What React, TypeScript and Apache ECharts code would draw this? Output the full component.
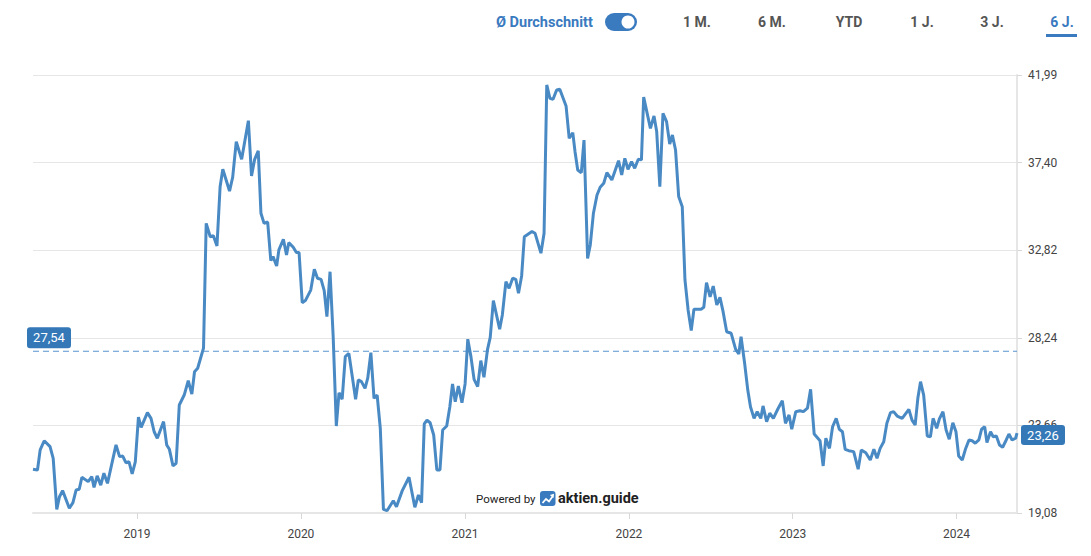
import React, { useEffect, useRef } from "react";
import * as echarts from "echarts";

const dates: string[] = [
  "2018-05-14","2018-05-24","2018-05-30","2018-06-08","2018-06-21","2018-06-28","2018-07-06","2018-07-12","2018-07-19","2018-08-03",
  "2018-08-11","2018-08-18","2018-08-25","2018-08-31","2018-09-14","2018-09-22","2018-09-27","2018-10-04","2018-10-12","2018-10-19",
  "2018-10-27","2018-11-15","2018-11-23","2018-11-30","2018-12-07","2018-12-14","2018-12-21","2018-12-28",
  "2019-01-04","2019-01-10","2019-01-24","2019-02-01","2019-02-08","2019-02-15","2019-03-01","2019-03-08","2019-03-14","2019-03-22",
  "2019-03-29","2019-04-05","2019-04-16","2019-04-25","2019-05-03","2019-05-09","2019-05-16","2019-05-29","2019-06-04","2019-06-13",
  "2019-06-20","2019-06-28","2019-07-05","2019-07-11","2019-07-26","2019-08-02","2019-08-10","2019-08-22","2019-09-06","2019-09-13",
  "2019-09-20","2019-09-28","2019-10-04","2019-10-11","2019-10-19","2019-10-26","2019-10-31","2019-11-08","2019-11-13","2019-11-23",
  "2019-11-30","2019-12-05","2019-12-15","2019-12-22","2019-12-28",
  "2020-01-04","2020-01-11","2020-01-23","2020-01-31","2020-02-07","2020-02-15","2020-02-22","2020-02-28","2020-03-06","2020-03-13",
  "2020-03-20","2020-03-26","2020-04-02","2020-04-09","2020-04-17","2020-05-02","2020-05-08","2020-05-15","2020-05-23","2020-05-29",
  "2020-06-05","2020-06-12","2020-06-19","2020-06-26","2020-07-03","2020-07-11","2020-07-25","2020-08-01","2020-08-14","2020-08-29",
  "2020-09-11","2020-09-19","2020-09-26","2020-10-02","2020-10-08","2020-10-15","2020-10-23","2020-10-30","2020-11-06","2020-11-12",
  "2020-11-21","2020-11-28","2020-12-04","2020-12-10","2020-12-17","2020-12-25",
  "2021-01-01","2021-01-07","2021-01-14","2021-01-21","2021-01-29","2021-02-05","2021-02-12","2021-02-20","2021-02-26","2021-03-05",
  "2021-03-19","2021-03-25","2021-04-02","2021-04-09","2021-04-17","2021-04-24","2021-04-30","2021-05-07","2021-05-13","2021-05-30",
  "2021-06-06","2021-06-19","2021-06-26","2021-07-02","2021-07-09","2021-07-16","2021-07-24","2021-07-31","2021-08-14","2021-08-21",
  "2021-08-29","2021-09-03","2021-09-09","2021-09-17","2021-09-23","2021-10-01","2021-10-07","2021-10-14","2021-10-22","2021-10-29",
  "2021-11-06","2021-11-13","2021-11-24","2021-12-09","2021-12-16","2021-12-23","2021-12-30",
  "2022-01-07","2022-01-14","2022-01-22","2022-01-29","2022-02-03","2022-02-18","2022-02-26","2022-03-04","2022-03-11","2022-03-18",
  "2022-03-26","2022-04-02","2022-04-08","2022-04-15","2022-04-22","2022-04-30","2022-05-06","2022-05-13","2022-05-20","2022-05-26",
  "2022-06-11","2022-06-17","2022-06-23","2022-07-01","2022-07-08","2022-07-16","2022-07-23","2022-07-30","2022-08-07","2022-08-17",
  "2022-08-27","2022-09-03","2022-09-08","2022-09-16","2022-09-23","2022-09-29","2022-10-07","2022-10-14","2022-10-22","2022-10-27",
  "2022-11-04","2022-11-11","2022-11-19","2022-11-29","2022-12-09","2022-12-16","2022-12-24","2022-12-30",
  "2023-01-08","2023-01-17","2023-01-25","2023-02-03","2023-02-10","2023-02-18","2023-03-03","2023-03-10","2023-03-16","2023-03-24",
  "2023-03-31","2023-04-08","2023-04-15","2023-04-22","2023-04-28","2023-05-06","2023-05-17","2023-05-27","2023-06-03","2023-06-13",
  "2023-06-23","2023-07-01","2023-07-08","2023-07-15","2023-07-23","2023-07-30","2023-08-07","2023-08-14","2023-08-22","2023-09-02",
  "2023-09-17","2023-09-24","2023-10-01","2023-10-07","2023-10-13","2023-10-20","2023-10-28","2023-11-04","2023-11-10","2023-11-18",
  "2023-11-24","2023-12-02","2023-12-09","2023-12-16","2023-12-24","2023-12-31",
  "2024-01-06","2024-01-14","2024-01-21","2024-01-29","2024-02-05","2024-02-12","2024-02-20","2024-02-26","2024-03-04","2024-03-09",
  "2024-03-17","2024-03-23","2024-03-30","2024-04-06","2024-04-13","2024-04-21","2024-04-27","2024-05-04","2024-05-12","2024-05-15",
];

const prices: number[] = [
  21.37,21.33,22.38,22.86,22.55,21.94,19.27,19.93,20.25,19.33,
  19.62,20.28,20.32,20.95,20.72,20.98,20.42,21.02,20.54,21.16,
  20.63,22.64,22.03,22.06,21.71,21.76,21.12,21.76,
  24.09,23.56,24.33,24.03,23.33,22.99,23.86,22.64,22.41,21.54,
  21.68,24.73,25.25,26.00,25.30,26.47,26.65,27.70,34.23,33.53,
  33.58,33.05,36.15,37.06,35.92,36.64,38.50,37.58,39.60,36.71,
  37.58,38.03,34.76,34.23,34.30,32.28,32.49,32.00,32.84,33.40,
  32.58,33.22,32.98,32.70,32.70,
  30.08,30.19,30.74,31.83,31.36,31.30,30.71,29.35,31.70,28.30,
  23.63,25.37,25.03,27.26,27.43,25.03,26.04,25.95,25.60,26.13,
  27.47,25.08,25.25,23.51,19.27,19.20,19.72,19.41,20.25,20.95,
  19.38,20.02,19.62,23.74,23.94,23.80,23.16,21.33,21.33,23.42,
  23.63,24.64,25.83,24.90,25.72,24.85,
  25.83,28.17,27.26,26.07,25.69,27.05,26.18,27.64,28.27,30.19,
  28.69,29.44,31.18,30.83,31.36,31.30,30.57,31.48,33.53,33.80,
  33.71,32.67,33.71,41.47,40.77,40.72,41.21,41.24,40.37,38.68,
  38.97,37.98,37.02,36.88,38.59,32.40,33.10,34.76,35.71,36.12,
  36.33,36.88,36.50,37.51,36.76,37.63,37.06,
  37.46,37.11,37.58,37.55,40.83,39.20,39.85,39.03,36.15,39.99,
  39.55,38.38,38.85,38.07,35.63,35.10,31.27,29.70,28.62,29.74,
  29.74,29.84,31.13,30.39,30.95,29.96,30.36,29.61,28.56,28.48,
  27.64,27.40,28.30,26.91,25.51,24.64,24.03,24.38,24.03,24.68,
  23.86,24.30,24.03,24.52,24.95,23.77,24.21,23.46,
  24.38,24.43,24.38,24.56,25.55,23.21,22.86,21.54,22.99,22.46,
  23.59,24.03,23.46,23.33,22.41,22.34,22.29,21.37,22.38,22.23,
  21.85,22.41,21.94,22.46,22.81,23.77,24.33,24.38,24.15,24.03,
  24.50,23.94,23.68,25.08,25.95,25.25,23.11,23.07,24.03,23.51,
  24.00,24.38,23.42,22.94,23.80,23.33,
  22.06,21.85,22.41,22.90,22.86,22.73,22.90,23.46,23.59,22.76,
  23.33,23.07,23.11,22.64,22.52,22.90,23.21,22.90,22.99,23.26,
];

const yTickLabels: string[] = ["19,08", "23,66", "28,24", "32,82", "37,40", "41,99"];
const Y_MIN = 19.08;
const Y_MAX = 41.99;
const AVERAGE = 27.54;
const AVERAGE_LABEL = "27,54";
const LAST_LABEL = "23,26";
const X_MIN = "2018-05-14";
const X_MAX = "2024-05-15";
const periods: string[] = ["1 M.", "6 M.", "YTD", "1 J.", "3 J.", "6 J."];
const periodCenters: number[] = [697, 772, 849, 922, 992, 1062];

const BLUE = "#3a7abf";
const LINE = "#4a8ac4";
const AVG_LINE = "#5a94d0";
const FONT = "Roboto, 'Noto Sans', sans-serif";

export default function App() {
  const ref = useRef<HTMLDivElement>(null);

  useEffect(() => {
    const chart = echarts.init(ref.current!, null, { renderer: "svg" });
    const interval = (Y_MAX - Y_MIN) / 5;

    chart.setOption({
      animation: false,
      grid: { left: 33, right: 74, top: 75, bottom: 43, containLabel: false },
      xAxis: {
        type: "time",
        min: X_MIN,
        max: X_MAX,
        splitNumber: 6,
        axisLine: { show: true, lineStyle: { color: "#e6e6e6", width: 2 } },
        axisTick: { show: true, length: 6, lineStyle: { color: "#d8d8d8", width: 1 } },
        axisLabel: {
          margin: 15,
          color: "#444",
          fontSize: 12,
          fontFamily: FONT,
          formatter: (val: number) => {
            const d = new Date(val);
            return d.getMonth() === 0 && d.getDate() === 1 ? String(d.getFullYear()) : "";
          },
        },
        splitLine: { show: false },
      },
      yAxis: {
        type: "value",
        position: "right",
        min: Y_MIN,
        max: Y_MAX,
        interval,
        axisLine: { show: true, lineStyle: { color: "#e6e6e6", width: 2 } },
        axisTick: { show: true, length: 5, lineStyle: { color: "#d8d8d8" } },
        splitLine: { show: true, lineStyle: { color: "#e6e6e6", width: 1 } },
        axisLabel: {
          margin: 11,
          color: "#444",
          fontSize: 12,
          fontFamily: FONT,
          formatter: (v: number) => {
            const i = Math.round((v - Y_MIN) / interval);
            return yTickLabels[i] ?? "";
          },
        },
      },
      series: [
        {
          name: "Durchschnitt",
          type: "line",
          data: [
            [X_MIN, AVERAGE],
            [X_MAX, AVERAGE],
          ],
          showSymbol: false,
          symbol: "none",
          silent: true,
          z: 1,
          lineStyle: { color: AVG_LINE, width: 1.2, type: [6, 4] },
          itemStyle: { color: AVG_LINE },
        },
        {
          name: "Kurs",
          type: "line",
          data: dates.map((d, i) => [d, prices[i]]),
          showSymbol: false,
          symbol: "none",
          silent: true,
          z: 2,
          lineStyle: { color: LINE, width: 3 },
          itemStyle: { color: LINE },
        },
      ],
    });

    const avgY = chart.convertToPixel({ yAxisIndex: 0 }, AVERAGE) as number;
    const lastPt = chart.convertToPixel({ seriesIndex: 1 }, [
      dates[dates.length - 1],
      prices[prices.length - 1],
    ]) as number[];

    const txt = (text: string, x: number, y: number, font: string, fill: string, align = "left") => ({
      type: "text",
      style: {
        text, x, y, font, fill,
        textAlign: align, align,
        textVerticalAlign: "middle", verticalAlign: "middle",
      },
    });

    const graphic: any[] = [
      // header
      txt("Ø Durchschnitt", 496, 22, `bold 14.5px ${FONT}`, BLUE),
      { type: "rect", shape: { x: 605, y: 13, width: 32, height: 18, r: 9 }, style: { fill: BLUE } },
      { type: "circle", shape: { cx: 628, cy: 22, r: 6.5 }, style: { fill: "#ffffff" } },
      ...periods.map((p, i) =>
        txt(p, periodCenters[i], 22, `bold 14px ${FONT}`, i === periods.length - 1 ? BLUE : "#555", "center")
      ),
      { type: "rect", shape: { x: 1046, y: 34, width: 31, height: 3 }, style: { fill: BLUE } },
      // average label
      { type: "rect", z: 10, shape: { x: 27, y: avgY - 24, width: 44, height: 21, r: 3 }, style: { fill: "#3478b8" } },
      { ...txt(AVERAGE_LABEL, 49, avgY - 13.5, `13px ${FONT}`, "#ffffff", "center"), z: 11 },
      // last value label
      { type: "rect", z: 10, shape: { x: lastPt[0] + 4, y: lastPt[1] - 8, width: 44, height: 20, r: 3 }, style: { fill: "#3478b8" } },
      { ...txt(LAST_LABEL, lastPt[0] + 26, lastPt[1] + 2, `13px ${FONT}`, "#ffffff", "center"), z: 11 },
      // powered by
      txt("Powered by", 476, 499, `11.5px ${FONT}`, "#222"),
      { type: "rect", shape: { x: 540, y: 491, width: 15.5, height: 15, r: 3 }, style: { fill: BLUE } },
      {
        type: "polyline",
        shape: { points: [[542.5, 503], [546, 499], [549, 501.5], [552.5, 496.5]] },
        style: { stroke: "#ffffff", lineWidth: 1.8, fill: null },
      },
      { type: "polygon", shape: { points: [[549.8, 495], [554, 493.8], [553.6, 498]] }, style: { fill: "#ffffff" } },
      txt("aktien.guide", 558, 498, `bold 14.5px ${FONT}`, "#222"),
    ];

    chart.setOption({ graphic });

    return () => chart.dispose();
  }, []);

  return (
    <div
      ref={ref}
      style={{ position: "fixed", left: 0, top: 0, width: 1091, height: 556, background: "#ffffff" }}
    />
  );
}
